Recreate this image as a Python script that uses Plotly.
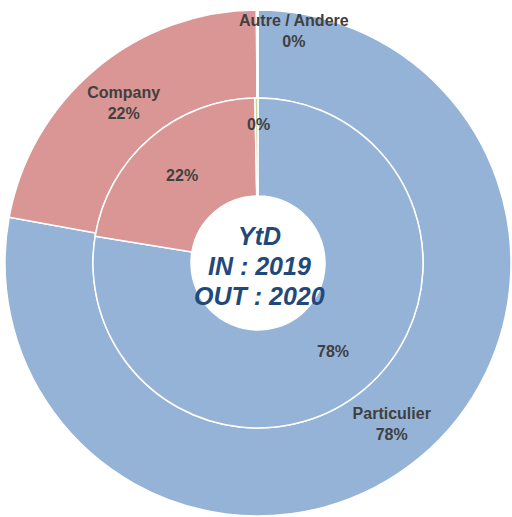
import plotly.graph_objects as go

# Customer mix, two rings (outer and inner)
categories = ["Particulier", "Company", "Autre / Andere"]
outer_values = [779, 220, 1]
inner_values = [776, 221, 3]
colors = ["#95B3D7", "#D99694", "#C3D69B"]
center_lines = ["YtD", "IN : 2019", "OUT : 2020"]

W, H = 512, 517
cx, cy = 258, 263          # ring centre in pixels (from top-left)
r_outer, r_mid, r_hole = 253, 165, 67

label_font = dict(family="Liberation Sans, Arial, sans-serif", size=16, color="#404040")


def dom(r):
    return dict(x=[(cx - r) / W, (cx + r) / W],
                y=[(H - cy - r) / H, (H - cy + r) / H])


def pct(vals):
    t = sum(vals)
    return [v / t * 100 for v in vals]


outer_pct = pct(outer_values)
inner_pct = pct(inner_values)

outer_text = [f"<b>{c}<br>{p:.0f}%</b>" if p >= 1 else "" for c, p in zip(categories, outer_pct)]
inner_text = [f"<b>{p:.0f}%</b>" if p >= 1 else "" for p in inner_pct]

fig = go.Figure()
fig.add_trace(go.Pie(
    labels=categories, values=outer_values, sort=False, direction="clockwise",
    rotation=0, hole=r_mid / r_outer, domain=dom(r_outer),
    marker=dict(colors=colors, line=dict(color="white", width=1.5)),
    text=outer_text, textinfo="text", textposition="inside",
    insidetextorientation="horizontal", textfont=label_font,
    showlegend=False, hoverinfo="label+percent",
))
fig.add_trace(go.Pie(
    labels=categories, values=inner_values, sort=False, direction="clockwise",
    rotation=0, hole=r_hole / r_mid, domain=dom(r_mid),
    marker=dict(colors=colors, line=dict(color="white", width=1.5)),
    text=inner_text, textinfo="text", textposition="inside",
    insidetextorientation="horizontal", textfont=label_font,
    showlegend=False, hoverinfo="label+percent",
))

# Labels for the near-zero slices, placed at the top of each ring
fig.add_annotation(x=294 / W, y=1 - 31 / H, xref="paper", yref="paper",
                   xanchor="center", yanchor="middle",
                   text=f"<b>{categories[2]}<br>{outer_pct[2]:.0f}%</b>",
                   showarrow=False, font=label_font)
fig.add_annotation(x=258 / W, y=1 - 124 / H, xref="paper", yref="paper",
                   xanchor="center", yanchor="middle",
                   text=f"<b>{inner_pct[2]:.0f}%</b>",
                   showarrow=False, font=label_font)

# Centre caption
for i, line in enumerate(center_lines):
    fig.add_annotation(x=259 / W, y=1 - (236 + 30 * i) / H, xref="paper", yref="paper",
                       xanchor="center", yanchor="middle",
                       text=f"<b><i>{line}</i></b>", showarrow=False,
                       font=dict(family="Liberation Sans, Arial, sans-serif", size=25,
                                 color="#1F497D"))

fig.update_layout(width=W, height=H, margin=dict(l=0, r=0, t=0, b=0),
                  paper_bgcolor="white", plot_bgcolor="white",
                  uniformtext=dict(mode="show", minsize=16))
fig.write_html("out.html")
